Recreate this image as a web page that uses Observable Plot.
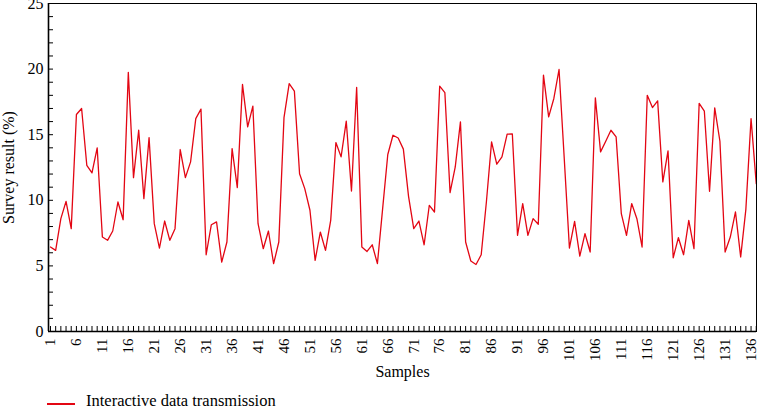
<!DOCTYPE html>
<html>
<head>
<meta charset="utf-8">
<script src="https://cdn.jsdelivr.net/npm/d3@7"></script>
<script src="https://cdn.jsdelivr.net/npm/@observablehq/plot@0.6"></script>
<style>
  html, body { margin: 0; padding: 0; background: #fff; }
  #wrap { position: relative; width: 757px; height: 408px; overflow: hidden; font-family: "Liberation Serif", serif; color: #000; }
  #wrap svg { display: block; }
  #legend-line { position: absolute; left: 47px; top: 403.4px; width: 28px; height: 1.3px; background: #e30613; }
  #legend-text { position: absolute; left: 86px; top: 393.2px; font-size: 16.5px; line-height: 1; white-space: nowrap; }
</style>
</head>
<body>
<div id="wrap"></div>
<script>
// ---- data ----
const seriesName = "Interactive data transmission";
const xLabel = "Samples";
const yLabel = "Survey result (%)";
const sampleCount = 137;
const surveyResult = [
  6.44, 6.18, 8.6, 9.92, 7.84, 16.54, 17.0, 12.67, 12.09, 14.0,
  7.2, 6.95, 7.66, 9.87, 8.52, 19.75, 11.73, 15.34, 10.13, 14.78,
  8.22, 6.36, 8.42, 6.95, 7.84, 13.87, 11.73, 12.93, 16.23, 16.95,
  5.85, 8.14, 8.35, 5.29, 6.82, 13.94, 10.97, 18.83, 15.6, 17.18,
  8.22, 6.31, 7.66, 5.17, 6.82, 16.3, 18.9, 18.32, 12.03, 10.89,
  9.24, 5.42, 7.58, 6.18, 8.47, 14.4, 13.31, 16.03, 10.71, 18.6,
  6.44, 6.1, 6.61, 5.17, 9.33, 13.49, 14.96, 14.75, 13.9, 10.3,
  7.84, 8.42, 6.61, 9.62, 9.11, 18.7, 18.2, 10.59, 12.54, 15.98,
  6.82, 5.37, 5.11, 5.85, 9.87, 14.45, 12.75, 13.31, 15.04, 15.06,
  7.33, 9.75, 7.33, 8.6, 8.17, 19.54, 16.36, 17.76, 19.97, 13.2,
  6.36, 8.4, 5.75, 7.46, 6.06, 17.81, 13.69, 14.5, 15.34, 14.83,
  8.98, 7.33, 9.75, 8.6, 6.44, 18.0, 17.07, 17.58, 11.4, 13.77,
  5.62, 7.15, 5.85, 8.47, 6.31, 17.38, 16.79, 10.69, 17.05, 14.5,
  6.06, 7.2, 9.11, 5.68, 9.31, 16.23, 11.27
];
const xTickLabels = [1, 6, 11, 16, 21, 26, 31, 36, 41, 46, 51, 56, 61, 66, 71, 76, 81, 86, 91, 96, 101, 106, 111, 116, 121, 126, 131, 136];
const yTickLabels = [0, 5, 10, 15, 20, 25];

// sample indices 1..137 (categories on the x axis)
const samples = d3.range(1, sampleCount + 1);
const yMinorTicks = d3.range(0, 26);
const table = samples.map((s, i) => ({sample: s, value: surveyResult[i]}));

// ---- layout ----
const W = 757, H = 385;
const mL = 48, mR = 1, mT = 3, mB = 54;
const innerW = W - mL - mR, innerH = H - mT - mB;
const red = "#e30613";
const font = '"Liberation Serif", serif';

const chart = Plot.plot({
  width: W,
  height: H,
  marginLeft: mL,
  marginRight: mR,
  marginTop: mT,
  marginBottom: mB,
  style: {fontFamily: font, fontSize: "15px", color: "#000", background: "#fff", overflow: "visible"},
  x: {domain: [0.62, 137.05]},
  y: {domain: [0, 25]},
  marks: [
    // inward minor ticks
    Plot.tickX(samples, {x: d => d, stroke: "#000", strokeWidth: 1, insetTop: innerH - 5}),
    Plot.tickY(yMinorTicks, {y: d => d, stroke: "#000", strokeWidth: 1, insetRight: innerW - 5}),
    // tick labels
    Plot.axisX({ticks: xTickLabels, tickSize: 0, tickPadding: 7, tickRotate: -90, label: null, fontSize: 15, tickFormat: d => String(d)}),
    Plot.axisY({ticks: yTickLabels, tickSize: 0, tickPadding: 5, label: null, fontSize: 16, tickFormat: d => String(d)}),
    // axis titles
    Plot.text([xLabel], {text: d => d, frameAnchor: "bottom", textAnchor: "middle", lineAnchor: "middle", dy: 40, fontSize: 16}),
    Plot.text([yLabel], {text: d => d, frameAnchor: "left", textAnchor: "middle", lineAnchor: "middle", rotate: -90, dx: -40, fontSize: 16}),
    // series
    Plot.line(table, {x: "sample", y: "value", stroke: red, strokeWidth: 1.3}),
    Plot.frame({stroke: "#000", strokeWidth: 1}),
    Plot.ruleY([0], {stroke: "#000", strokeWidth: 1.6}),
    Plot.ruleX([0.62], {stroke: "#000", strokeWidth: 1.6})
  ]
});

const wrap = document.getElementById("wrap");
wrap.appendChild(chart);
const ll = document.createElement("div"); ll.id = "legend-line"; wrap.appendChild(ll);
const lt = document.createElement("div"); lt.id = "legend-text"; lt.textContent = seriesName; wrap.appendChild(lt);
</script>
</body>
</html>
